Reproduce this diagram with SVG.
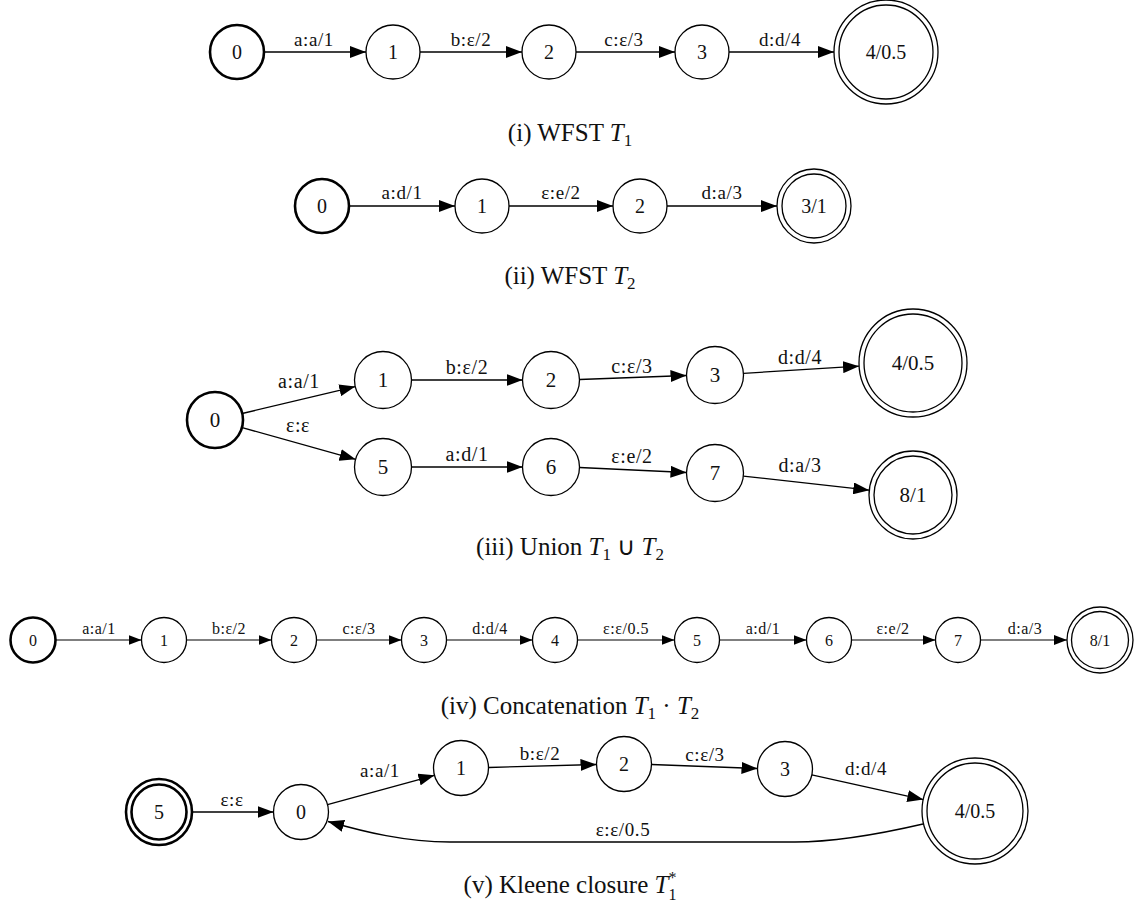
<svg xmlns="http://www.w3.org/2000/svg" width="1140" height="920" viewBox="0 0 1140 920">
  <defs>
    <marker id="arr" markerUnits="userSpaceOnUse" markerWidth="16" markerHeight="12" refX="16" refY="6" orient="auto">
      <path d="M0,0 L16,6 L0,12 z" fill="#000"/>
    </marker>
    <marker id="arrS" markerUnits="userSpaceOnUse" markerWidth="13" markerHeight="10" refX="13" refY="5" orient="auto">
      <path d="M0,0 L13,5 L0,10 z" fill="#000"/>
    </marker>
  </defs>
  <style>
    text { font-family: "Liberation Serif", "Times New Roman", serif; fill: #111; text-anchor: middle; }
    .st { fill: #fff; stroke: #000; stroke-width: 1.3; }
    .start { fill: #fff; stroke: #000; stroke-width: 2.6; }
    .ring { fill: none; stroke: #000; stroke-width: 1.3; }
    .ringB { fill: none; stroke: #000; stroke-width: 2.6; }
    .e { fill: none; stroke: #000; stroke-width: 1.3; marker-end: url(#arr); }
    .es { fill: none; stroke: #000; stroke-width: 1.2; marker-end: url(#arrS); }
    .nl { font-size: 20px; }
    .nlL { font-size: 21px; }
    .nlS { font-size: 16px; }
    .el { font-size: 19px; letter-spacing: 0.6px; }
    .elL { font-size: 20px; letter-spacing: 0.6px; }
    .elS { font-size: 16px; letter-spacing: 0.5px; }
    .cap { font-size: 25px; }
    .it { font-style: italic; }
  </style>

  <rect width="1140" height="920" fill="#fff"/>

  <!-- (i) WFST T1 -->
  <g id="t1-edges">
    <line class="e" x1="264" y1="52" x2="366" y2="52"/>
    <line class="e" x1="420" y1="52" x2="522" y2="52"/>
    <line class="e" x1="576" y1="52" x2="675" y2="52"/>
    <line class="e" x1="729" y1="52" x2="834" y2="52"/>
    <text class="el" x="314" y="46">a:a/1</text>
    <text class="el" x="471" y="46">b:ε/2</text>
    <text class="el" x="624" y="46">c:ε/3</text>
    <text class="el" x="780" y="46">d:d/4</text>
  </g>
  <g id="t1-n0"><circle class="start" cx="237" cy="52" r="27"/><text class="nl" x="237" y="59">0</text></g>
  <g id="t1-n1"><circle class="st" cx="393" cy="52" r="27"/><text class="nl" x="393" y="59">1</text></g>
  <g id="t1-n2"><circle class="st" cx="549" cy="52" r="27"/><text class="nl" x="549" y="59">2</text></g>
  <g id="t1-n3"><circle class="st" cx="702" cy="52" r="27"/><text class="nl" x="702" y="59">3</text></g>
  <g id="t1-n4"><circle class="st" cx="886" cy="52" r="52"/><circle class="ring" cx="886" cy="52" r="47"/><text class="nl" x="886" y="59">4/0.5</text></g>
  <text class="cap" x="570" y="141">(i) WFST <tspan class="it">T</tspan><tspan font-size="17" dy="5">1</tspan></text>

  <!-- (ii) WFST T2 -->
  <g id="t2-edges">
    <line class="e" x1="349" y1="206" x2="455" y2="206"/>
    <line class="e" x1="509" y1="206" x2="613" y2="206"/>
    <line class="e" x1="667" y1="206" x2="777" y2="206"/>
    <text class="el" x="402" y="199">a:d/1</text>
    <text class="el" x="561" y="199">ε:e/2</text>
    <text class="el" x="722" y="199">d:a/3</text>
  </g>
  <g id="t2-n0"><circle class="start" cx="322" cy="206" r="27"/><text class="nl" x="322" y="213">0</text></g>
  <g id="t2-n1"><circle class="st" cx="482" cy="206" r="27"/><text class="nl" x="482" y="213">1</text></g>
  <g id="t2-n2"><circle class="st" cx="640" cy="206" r="27"/><text class="nl" x="640" y="213">2</text></g>
  <g id="t2-n3"><circle class="st" cx="814" cy="206" r="37"/><circle class="ring" cx="814" cy="206" r="32"/><text class="nl" x="814" y="213">3/1</text></g>
  <text class="cap" x="570" y="284">(ii) WFST <tspan class="it">T</tspan><tspan font-size="17" dy="5">2</tspan></text>

  <!-- (iii) Union -->
  <g id="u-edges">
    <line class="e" x1="242.2" y1="413.5" x2="355.3" y2="386.6"/>
    <line class="e" x1="242.2" y1="427.6" x2="355.6" y2="459.3"/>
    <line class="e" x1="411.5" y1="380" x2="522.5" y2="380"/>
    <line class="e" x1="579.5" y1="379.5" x2="686.5" y2="375.5"/>
    <line class="e" x1="743.5" y1="373.3" x2="859" y2="366.2"/>
    <line class="e" x1="411.5" y1="467" x2="522.5" y2="467"/>
    <line class="e" x1="579.5" y1="467.5" x2="686.5" y2="472.5"/>
    <line class="e" x1="743.3" y1="476.1" x2="869.3" y2="490.2"/>
    <text class="elL" x="299" y="388">a:a/1</text>
    <text class="elL" x="298" y="432">ε:ε</text>
    <text class="elL" x="467" y="374">b:ε/2</text>
    <text class="elL" x="467" y="461">a:d/1</text>
    <text class="elL" x="632" y="373">c:ε/3</text>
    <text class="elL" x="632" y="463">ε:e/2</text>
    <text class="elL" x="800" y="364">d:d/4</text>
    <text class="elL" x="800" y="472">d:a/3</text>
  </g>
  <g id="u-n0"><circle class="start" cx="215" cy="420" r="28"/><text class="nlL" x="215" y="427">0</text></g>
  <g id="u-n1"><circle class="st" cx="383" cy="380" r="28.5"/><text class="nlL" x="383" y="387">1</text></g>
  <g id="u-n2"><circle class="st" cx="551" cy="380" r="28.5"/><text class="nlL" x="551" y="387">2</text></g>
  <g id="u-n3"><circle class="st" cx="715" cy="375" r="28.5"/><text class="nlL" x="715" y="382">3</text></g>
  <g id="u-n4"><circle class="st" cx="913" cy="363" r="54"/><circle class="ring" cx="913" cy="363" r="49"/><text class="nlL" x="913" y="370">4/0.5</text></g>
  <g id="u-n5"><circle class="st" cx="383" cy="467" r="28.5"/><text class="nlL" x="383" y="474">5</text></g>
  <g id="u-n6"><circle class="st" cx="551" cy="467" r="28.5"/><text class="nlL" x="551" y="474">6</text></g>
  <g id="u-n7"><circle class="st" cx="715" cy="473" r="28.5"/><text class="nlL" x="715" y="480">7</text></g>
  <g id="u-n8"><circle class="st" cx="913" cy="495" r="44"/><circle class="ring" cx="913" cy="495" r="39"/><text class="nlL" x="913" y="502">8/1</text></g>
  <text class="cap" x="570" y="555">(iii) Union <tspan class="it">T</tspan><tspan font-size="17" dy="5">1</tspan><tspan dy="-5"> ∪ </tspan><tspan class="it">T</tspan><tspan font-size="17" dy="5">2</tspan></text>

  <!-- (iv) Concatenation -->
  <g id="c-edges">
    <line class="es" x1="55.5" y1="640" x2="141.5" y2="640"/>
    <line class="es" x1="186.5" y1="640" x2="271.5" y2="640"/>
    <line class="es" x1="316.5" y1="640" x2="401.5" y2="640"/>
    <line class="es" x1="446.5" y1="640" x2="532.5" y2="640"/>
    <line class="es" x1="577.5" y1="640" x2="674.5" y2="640"/>
    <line class="es" x1="719.5" y1="640" x2="806.5" y2="640"/>
    <line class="es" x1="851.5" y1="640" x2="935.5" y2="640"/>
    <line class="es" x1="980.5" y1="640" x2="1067" y2="640"/>
    <text class="elS" x="99" y="634">a:a/1</text>
    <text class="elS" x="229" y="634">b:ε/2</text>
    <text class="elS" x="359" y="634">c:ε/3</text>
    <text class="elS" x="490" y="634">d:d/4</text>
    <text class="elS" x="626" y="634">ε:ε/0.5</text>
    <text class="elS" x="763" y="634">a:d/1</text>
    <text class="elS" x="893" y="634">ε:e/2</text>
    <text class="elS" x="1025" y="634">d:a/3</text>
  </g>
  <g id="c-n0"><circle class="start" cx="33" cy="640" r="22.5"/><text class="nlS" x="33" y="646">0</text></g>
  <g id="c-n1"><circle class="st" cx="164" cy="640" r="22.5"/><text class="nlS" x="164" y="646">1</text></g>
  <g id="c-n2"><circle class="st" cx="294" cy="640" r="22.5"/><text class="nlS" x="294" y="646">2</text></g>
  <g id="c-n3"><circle class="st" cx="424" cy="640" r="22.5"/><text class="nlS" x="424" y="646">3</text></g>
  <g id="c-n4"><circle class="st" cx="555" cy="640" r="22.5"/><text class="nlS" x="555" y="646">4</text></g>
  <g id="c-n5"><circle class="st" cx="697" cy="640" r="22.5"/><text class="nlS" x="697" y="646">5</text></g>
  <g id="c-n6"><circle class="st" cx="829" cy="640" r="22.5"/><text class="nlS" x="829" y="646">6</text></g>
  <g id="c-n7"><circle class="st" cx="958" cy="640" r="22.5"/><text class="nlS" x="958" y="646">7</text></g>
  <g id="c-n8"><circle class="st" cx="1100" cy="640" r="33"/><circle class="ring" cx="1100" cy="640" r="28.5"/><text class="nlS" x="1100" y="646">8/1</text></g>
  <text class="cap" x="570" y="714">(iv) Concatenation <tspan class="it">T</tspan><tspan font-size="17" dy="5">1</tspan><tspan dy="-5"> · </tspan><tspan class="it">T</tspan><tspan font-size="17" dy="5">2</tspan></text>

  <!-- (v) Kleene closure -->
  <g id="k-edges">
    <line class="e" x1="192" y1="812" x2="273.5" y2="812"/>
    <line class="e" x1="327.5" y1="804.7" x2="434.5" y2="775.3"/>
    <line class="e" x1="488.5" y1="767.5" x2="596.5" y2="764.5"/>
    <line class="e" x1="651.5" y1="764.5" x2="757.5" y2="768.5"/>
    <line class="e" x1="811.8" y1="774.9" x2="923.3" y2="799.6"/>
    <path class="e" d="M923,824 C880,834 830,842 795,842 L450,842 C405,842 365,832 328,821.5"/>
    <text class="el" x="232" y="806">ε:ε</text>
    <text class="el" x="380" y="777">a:a/1</text>
    <text class="el" x="540" y="760">b:ε/2</text>
    <text class="el" x="705" y="761">c:ε/3</text>
    <text class="el" x="866" y="775">d:d/4</text>
    <text class="el" x="623" y="836">ε:ε/0.5</text>
  </g>
  <g id="k-n5"><circle class="start" cx="159" cy="812" r="33"/><circle class="ringB" cx="159" cy="812" r="27.5"/><text class="nl" x="159" y="819">5</text></g>
  <g id="k-n0"><circle class="st" cx="301" cy="812" r="27.5"/><text class="nl" x="301" y="819">0</text></g>
  <g id="k-n1"><circle class="st" cx="461" cy="768" r="27.5"/><text class="nl" x="461" y="775">1</text></g>
  <g id="k-n2"><circle class="st" cx="624" cy="764" r="27.5"/><text class="nl" x="624" y="771">2</text></g>
  <g id="k-n3"><circle class="st" cx="785" cy="769" r="27.5"/><text class="nl" x="785" y="776">3</text></g>
  <g id="k-n4"><circle class="st" cx="975" cy="811" r="53"/><circle class="ring" cx="975" cy="811" r="48"/><text class="nl" x="975" y="818">4/0.5</text></g>
  <text class="cap" x="570" y="893">(v) Kleene closure <tspan class="it">T</tspan><tspan font-size="16" dy="7">1</tspan><tspan font-size="16" dx="-8" dy="-17">*</tspan></text>
</svg>
